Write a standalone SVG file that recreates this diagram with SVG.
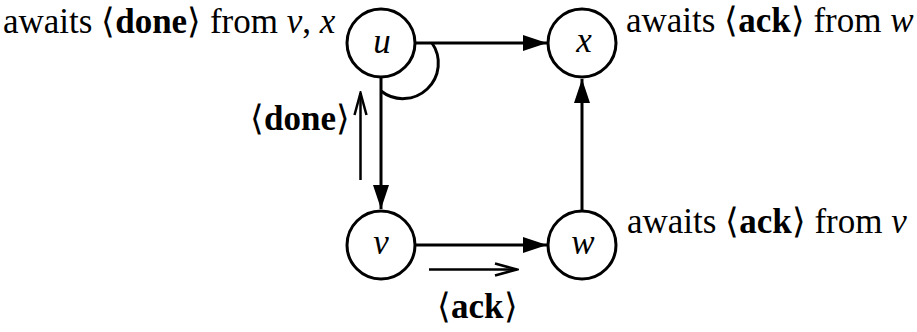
<svg xmlns="http://www.w3.org/2000/svg" width="917" height="332" viewBox="0 0 917 332">
  <defs>
    <style>
      .node { fill: #fff; stroke: #000; stroke-width: 3; }
      .edge { fill: none; stroke: #000; stroke-width: 3; }
      .msg { fill: none; stroke: #000; stroke-width: 2.5; }
    </style>
    <marker id="head" markerUnits="userSpaceOnUse" viewBox="0 0 24 16" refX="24" refY="8" markerWidth="24" markerHeight="16" orient="auto">
      <path d="M0,0 L24,8 L0,16 z" fill="#000"/>
    </marker>
    <marker id="open" markerUnits="userSpaceOnUse" viewBox="-2 -2 26 16" refX="22" refY="6" markerWidth="26" markerHeight="16" orient="auto">
      <path d="M0,0 L22,6 L0,12" fill="none" stroke="#000" stroke-width="2.5"/>
    </marker>
  </defs>

  <rect width="917" height="332" fill="#fff"/>

  <!-- edges, the angle mark at u, and the two message arrows -->
  <g id="connectors">
    <path class="edge" d="M416,43 L547,43" marker-end="url(#head)"/>
    <path class="edge" d="M381,78 L381,209" marker-end="url(#head)"/>
    <path class="edge" d="M416,245 L547,245" marker-end="url(#head)"/>
    <path class="edge" d="M582,210 L582,79" marker-end="url(#head)"/>
    <path class="edge" d="M432,43 A35.4,35.4 0 0 1 381,91"/>
    <path class="msg" d="M360.5,180 L360.5,93" marker-end="url(#open)"/>
    <path class="msg" d="M429,269.5 L517,269.5" marker-end="url(#open)"/>
  </g>

  <g id="node-u">
    <circle class="node" cx="381" cy="43" r="34"/>
    <text x="382" y="53" text-anchor="middle" font-family="Liberation Serif, serif" font-size="35" font-style="italic">u</text>
  </g>
  <g id="node-x">
    <circle class="node" cx="582" cy="43" r="34"/>
    <text x="584" y="52" text-anchor="middle" font-family="Liberation Serif, serif" font-size="35" font-style="italic">x</text>
  </g>
  <g id="node-v">
    <circle class="node" cx="381" cy="245" r="34"/>
    <text x="381" y="254" text-anchor="middle" font-family="Liberation Serif, serif" font-size="35" font-style="italic">v</text>
  </g>
  <g id="node-w">
    <circle class="node" cx="582" cy="245" r="34"/>
    <text x="583" y="254" text-anchor="middle" font-family="Liberation Serif, serif" font-size="35" font-style="italic">w</text>
  </g>

  <g id="labels">
    <text x="3" y="33" font-family="Liberation Serif, serif" font-size="35">awaits ⟨<tspan font-weight="bold">done</tspan>⟩ from <tspan font-style="italic">v</tspan>, <tspan font-style="italic">x</tspan></text>
    <text x="626" y="32" font-family="Liberation Serif, serif" font-size="35">awaits ⟨<tspan font-weight="bold">ack</tspan>⟩ from <tspan font-style="italic">w</tspan></text>
    <text x="627" y="233" font-family="Liberation Serif, serif" font-size="35">awaits ⟨<tspan font-weight="bold">ack</tspan>⟩ from <tspan font-style="italic">v</tspan></text>
    <text x="250" y="130" font-family="Liberation Serif, serif" font-size="35">⟨<tspan font-weight="bold">done</tspan>⟩</text>
    <text x="437" y="318" font-family="Liberation Serif, serif" font-size="35">⟨<tspan font-weight="bold">ack</tspan>⟩</text>
  </g>
</svg>
